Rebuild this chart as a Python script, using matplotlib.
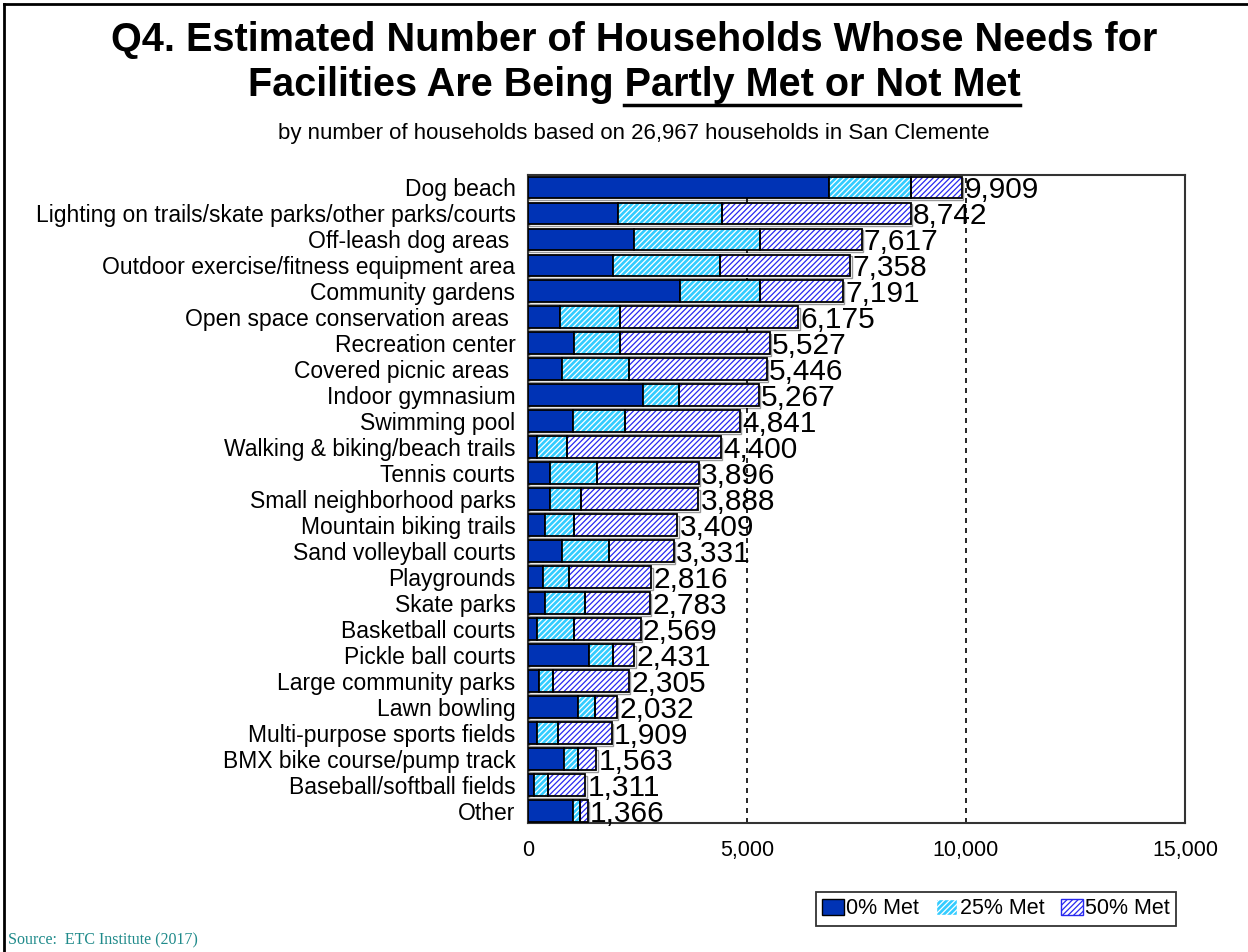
import numpy as np
import matplotlib.pyplot as plt
from matplotlib.patches import Patch
from matplotlib.lines import Line2D

# facilities, top to bottom
facilities = ["Dog beach", "Lighting on trails/skate parks/other parks/courts",
              "Off-leash dog areas ", "Outdoor exercise/fitness equipment area",
              "Community gardens", "Open space conservation areas ",
              "Recreation center", "Covered picnic areas ", "Indoor gymnasium",
              "Swimming pool", "Walking & biking/beach trails", "Tennis courts",
              "Small neighborhood parks", "Mountain biking trails",
              "Sand volleyball courts", "Playgrounds", "Skate parks",
              "Basketball courts", "Pickle ball courts", "Large community parks",
              "Lawn bowling", "Multi-purpose sports fields",
              "BMX bike course/pump track", "Baseball/softball fields", "Other"]
met_0 = [6872, 2055, 2420, 1941, 3470, 731, 1050, 776, 2626, 1027, 205, 502,
         502, 388, 776, 342, 388, 205, 1393, 251, 1142, 205, 822, 137, 1027]
met_25 = [1872, 2374, 2877, 2443, 1827, 1369, 1050, 1530, 821, 1188, 685, 1073,
          708, 662, 1073, 594, 913, 845, 548, 320, 388, 480, 320, 320, 160]
totals = [9909, 8742, 7617, 7358, 7191, 6175, 5527, 5446, 5267, 4841, 4400, 3896,
          3888, 3409, 3331, 2816, 2783, 2569, 2431, 2305, 2032, 1909, 1563, 1311, 1366]

met_0 = np.array(met_0)
met_25 = np.array(met_25)
totals = np.array(totals)
met_50 = totals - met_0 - met_25

plt.rcParams['font.family'] = ['Liberation Sans', 'DejaVu Sans']
plt.rcParams['hatch.linewidth'] = 0.9

dark = '#0033B5'
cyan = '#33CCFF'
hblue = '#2828F0'
hatch = '//////'

fig = plt.figure(figsize=(12.48, 9.52), dpi=100)
ax = fig.add_axes([528/1248, 1-823/952, (1185-528)/1248, (823-175)/952])

y = np.arange(len(facilities))
h = 0.84

# light gray shadow under bars
ax.barh(y + 0.06, totals, height=h, left=30, color='#FFFFFF', edgecolor='#999999',
        linewidth=1.0, zorder=1)

ax.barh(y, met_0, height=h, color=dark, edgecolor='black', linewidth=1.3, zorder=3)
ax.barh(y, met_25, height=h, left=met_0, color=cyan, edgecolor='white',
        hatch=hatch, linewidth=0, zorder=3)
ax.barh(y, met_25, height=h, left=met_0, fill=False, edgecolor='black',
        linewidth=1.3, zorder=4)
ax.barh(y, met_50, height=h, left=met_0 + met_25, color='white', edgecolor=hblue,
        hatch=hatch, linewidth=0, zorder=3)
ax.barh(y, met_50, height=h, left=met_0 + met_25, fill=False, edgecolor='black',
        linewidth=1.3, zorder=4)

for yi, t in zip(y, totals):
    ax.text(t + 50, yi + 0.1, f"{t:,}", va='center', ha='left', fontsize=21.5, zorder=5)

for xv in [5000, 10000]:
    ax.axvline(xv, color='black', linestyle=(0, (3, 3)), linewidth=1.2, zorder=2)

ax.set_xlim(0, 15000)
ax.set_ylim(len(facilities) - 0.54, -0.48)
ax.set_xticks([0, 5000, 10000, 15000])
ax.set_xticklabels(["0", "5,000", "10,000", "15,000"], fontsize=15.5)
ax.set_yticks(y)
ax.set_yticklabels(facilities, fontsize=16.5)
ax.tick_params(length=0, axis='y', pad=9)
ax.tick_params(length=0, axis='x', pad=12)
for s in ax.spines.values():
    s.set_color('#333333')
    s.set_linewidth(1.5)

# title
cx = 0.508
fig.text(cx, 1 - 40/952, "Q4. Estimated Number of Households Whose Needs for",
         ha='center', va='center', fontsize=28.5, fontweight='bold')
t2 = fig.text(cx, 1 - 85/952, "Facilities Are Being Partly Met or Not Met",
              ha='center', va='center', fontsize=28.5, fontweight='bold')
fig.text(cx, 1 - 133/952, "by number of households based on 26,967 households in San Clemente",
         ha='center', va='center', fontsize=16)

fig.canvas.draw()
r = fig.canvas.get_renderer()
bb = t2.get_window_extent(r)
tmp = fig.text(0, 0, "Partly Met or Not Met", fontsize=28.5, fontweight='bold')
w = tmp.get_window_extent(r).width
tmp.remove()
uy = bb.y0 - 1
fig.add_artist(Line2D([(bb.x1 - w) / 1248, bb.x1 / 1248], [uy / 952, uy / 952],
                      color='black', linewidth=2.5, transform=fig.transFigure))

handles = [Patch(facecolor=dark, edgecolor='black', label='0% Met'),
           Patch(facecolor=cyan, edgecolor='white', hatch=hatch, label='25% Met'),
           Patch(facecolor='white', edgecolor=hblue, hatch=hatch, label='50% Met')]
leg = fig.legend(handles=handles, loc='center', bbox_to_anchor=(996/1248, 1 - 909/952),
                 ncol=3, fontsize=15.5, frameon=True, fancybox=False, handlelength=1.0,
                 handleheight=0.8, handletextpad=0.1, columnspacing=0.8,
                 borderpad=0.3, edgecolor='black')
leg.get_frame().set_linewidth(1.3)

fig.text(8/1248, 1 - 940/952, "Source:  ETC Institute (2017)", ha='left', va='center',
         fontsize=11.5, color='#1F8A8A', family=['Liberation Serif', 'DejaVu Serif'])

# figure border (top and left)
fig.add_artist(Line2D([4/1248, 1], [1 - 4/952, 1 - 4/952], color='black', linewidth=2,
                      transform=fig.transFigure))
fig.add_artist(Line2D([4/1248, 4/1248], [0, 1 - 4/952], color='black', linewidth=2,
                      transform=fig.transFigure))

fig.savefig('out.png', dpi=100)
